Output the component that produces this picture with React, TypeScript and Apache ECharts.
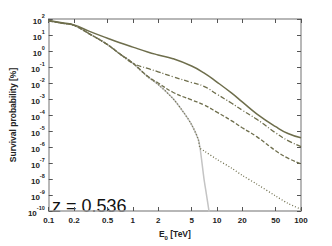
import React, { useEffect, useRef } from "react";
import * as echarts from "echarts";

// Energies E0 [TeV]
const energies = [0.1, 0.15, 0.2, 0.3, 0.5, 0.7, 1, 1.5, 2, 3, 5, 7, 10, 15, 20, 30, 50, 70, 100];
// Survival probability [%] – solid curve
const solidValues = [81, 57, 43, 17.5, 6.3, 3.3, 1.75, 0.87, 0.57, 0.33, 0.115, 0.043, 0.0115, 0.00231, 6.6e-4, 1.15e-4, 1.87e-5, 7e-6, 3.8e-6];
// dash-dot curve
const dashDotValues = [76, 53, 40, 12.3, 2.5, 0.66, 0.174, 0.081, 0.05, 0.0248, 0.0107, 0.0062, 0.002, 5.4e-4, 2e-4, 5.3e-5, 7.6e-6, 2.5e-6, 1.07e-6];
// dashed curve
const dashedValues = [76, 53, 40, 12.3, 2.5, 0.66, 0.174, 0.0265, 0.01, 0.00265, 8.7e-4, 4.3e-4, 1.5e-4, 4.3e-5, 1.6e-5, 4.3e-6, 5.8e-7, 2e-7, 8.7e-8];
// dotted curve
const dottedEnergies = [0.1, 0.15, 0.2, 0.3, 0.5, 0.7, 1, 1.5, 2, 3, 4, 5, 6, 6.3, 7, 10, 15, 20, 30, 50, 70, 100];
const dottedValues = [76, 53, 40, 12.3, 2.5, 0.66, 0.174, 0.0248, 0.0081, 0.00107, 1.5e-4, 2.5e-5, 3e-6, 8.7e-7, 5.8e-7, 1.7e-7, 4.7e-8, 1.7e-8, 4.7e-9, 8.7e-10, 3e-10, 1.3e-10];
// grey curve (no cascade)
const greyEnergies = [0.1, 0.15, 0.2, 0.3, 0.5, 0.7, 1, 1.5, 2, 3, 4, 5, 6, 6.3, 7, 7.5, 8.1];
const greyValues = [76, 53, 40, 12.3, 2.5, 0.66, 0.174, 0.0248, 0.0081, 0.00107, 1.5e-4, 2.5e-5, 3e-6, 8.7e-7, 1.15e-8, 1.1e-9, 8e-11];

const xTicks = [0.1, 0.2, 0.5, 1, 2, 5, 10, 20, 50, 100];
const yTicks = [1e-10, 1e-9, 1e-8, 1e-7, 1e-6, 1e-5, 1e-4, 1e-3, 1e-2, 1e-1, 1, 10, 100];
const redshiftLabel = "z = 0.536";

const FONT = "'Liberation Sans', Arial, sans-serif";
const LINE = "#6e6e4c";
const FRAME = "#a0a0a0";

const pairs = (xs: number[], ys: number[]) => xs.map((x, i) => [x, ys[i]]);

export default function App() {
  const ref = useRef<HTMLDivElement>(null);
  useEffect(() => {
    const chart = echarts.init(ref.current!, null, { renderer: "svg" });
    const tickStyle = { show: true, inside: true, length: 4, lineStyle: { color: "#555", width: 1 } };
    const axisLine = { show: true, lineStyle: { color: FRAME, width: 1.5 } };
    const lineSeries = (name: string, data: number[][], type: any, color: string, width: number, z: number, smooth: number) => ({
      name,
      type: "line",
      data,
      showSymbol: false,
      symbol: "none",
      smooth,
      clip: true,
      z,
      lineStyle: { color, width, type },
    });
    chart.setOption({
      animation: false,
      grid: { left: 43, right: 31, top: 19, bottom: 29 },
      xAxis: [
        {
          type: "log",
          logBase: 10,
          min: 0.1,
          max: 100,
          position: "bottom",
          axisLine,
          axisTick: { ...tickStyle, customValues: xTicks },
          splitLine: { show: false },
          axisLabel: {
            customValues: xTicks,
            margin: 5,
            fontSize: 8,
            fontWeight: "bold",
            fontFamily: FONT,
            color: "#222",
            formatter: (v: number) => String(v),
          },
          name: "{b|E}{s|0}{b| [TeV]}",
          nameLocation: "middle",
          nameGap: 18,
          nameTextStyle: {
            rich: {
              b: { fontSize: 8.5, fontWeight: "bold", fontFamily: FONT, color: "#222", lineHeight: 12, verticalAlign: "top" },
              s: { fontSize: 6, fontWeight: "bold", fontFamily: FONT, color: "#222", lineHeight: 8, verticalAlign: "bottom", padding: [4, 0, 0, 0] },
            },
          },
        },
        {
          type: "log",
          logBase: 10,
          min: 0.1,
          max: 100,
          position: "top",
          axisLine,
          axisTick: { ...tickStyle, customValues: xTicks },
          axisLabel: { show: false },
          splitLine: { show: false },
        },
      ],
      yAxis: [
        {
          type: "log",
          logBase: 10,
          min: 1e-10,
          max: 100,
          position: "left",
          axisLine,
          axisTick: { ...tickStyle, customValues: yTicks },
          splitLine: { show: false },
          axisLabel: {
            customValues: yTicks,
            margin: 4,
            formatter: (v: number) => `{b|10}{s|${Math.round(Math.log10(v))}}`,
            rich: {
              b: { fontSize: 8, fontWeight: "bold", fontFamily: FONT, color: "#222", lineHeight: 12, verticalAlign: "bottom" },
              s: { fontSize: 5.5, fontWeight: "bold", fontFamily: FONT, color: "#222", lineHeight: 7, verticalAlign: "top" },
            },
          },
          name: "Survival probability [%]",
          nameLocation: "middle",
          nameGap: 29,
          nameTextStyle: { fontSize: 8.5, fontWeight: "bold", fontFamily: FONT, color: "#222" },
        },
        {
          type: "log",
          logBase: 10,
          min: 1e-10,
          max: 100,
          position: "right",
          axisLine,
          axisTick: { ...tickStyle, customValues: yTicks },
          axisLabel: { show: false },
          splitLine: { show: false },
        },
      ],
      graphic: [
        {
          type: "text",
          left: 52,
          top: 197,
          style: { text: redshiftLabel, fontSize: 18, fontFamily: FONT, fill: "#111" },
        },
      ],
      series: [
        lineSeries("grey", pairs(greyEnergies, greyValues), "solid", "#c4c4c4", 1.5, 1, 0.3),
        lineSeries("dotted", pairs(dottedEnergies, dottedValues), [1, 2], LINE, 1.3, 2, 0.3),
        lineSeries("dashed", pairs(energies, dashedValues), [4, 2], LINE, 1.3, 3, 0.5),
        lineSeries("dashdot", pairs(energies, dashDotValues), [5, 2, 1, 2], LINE, 1.3, 4, 0.5),
        lineSeries("solid", pairs(energies, solidValues), "solid", LINE, 1.5, 5, 0.5),
      ],
    });
    return () => chart.dispose();
  }, []);
  return <div ref={ref} style={{ position: "absolute", left: 0, top: 0, width: 332, height: 246 }} />;
}
